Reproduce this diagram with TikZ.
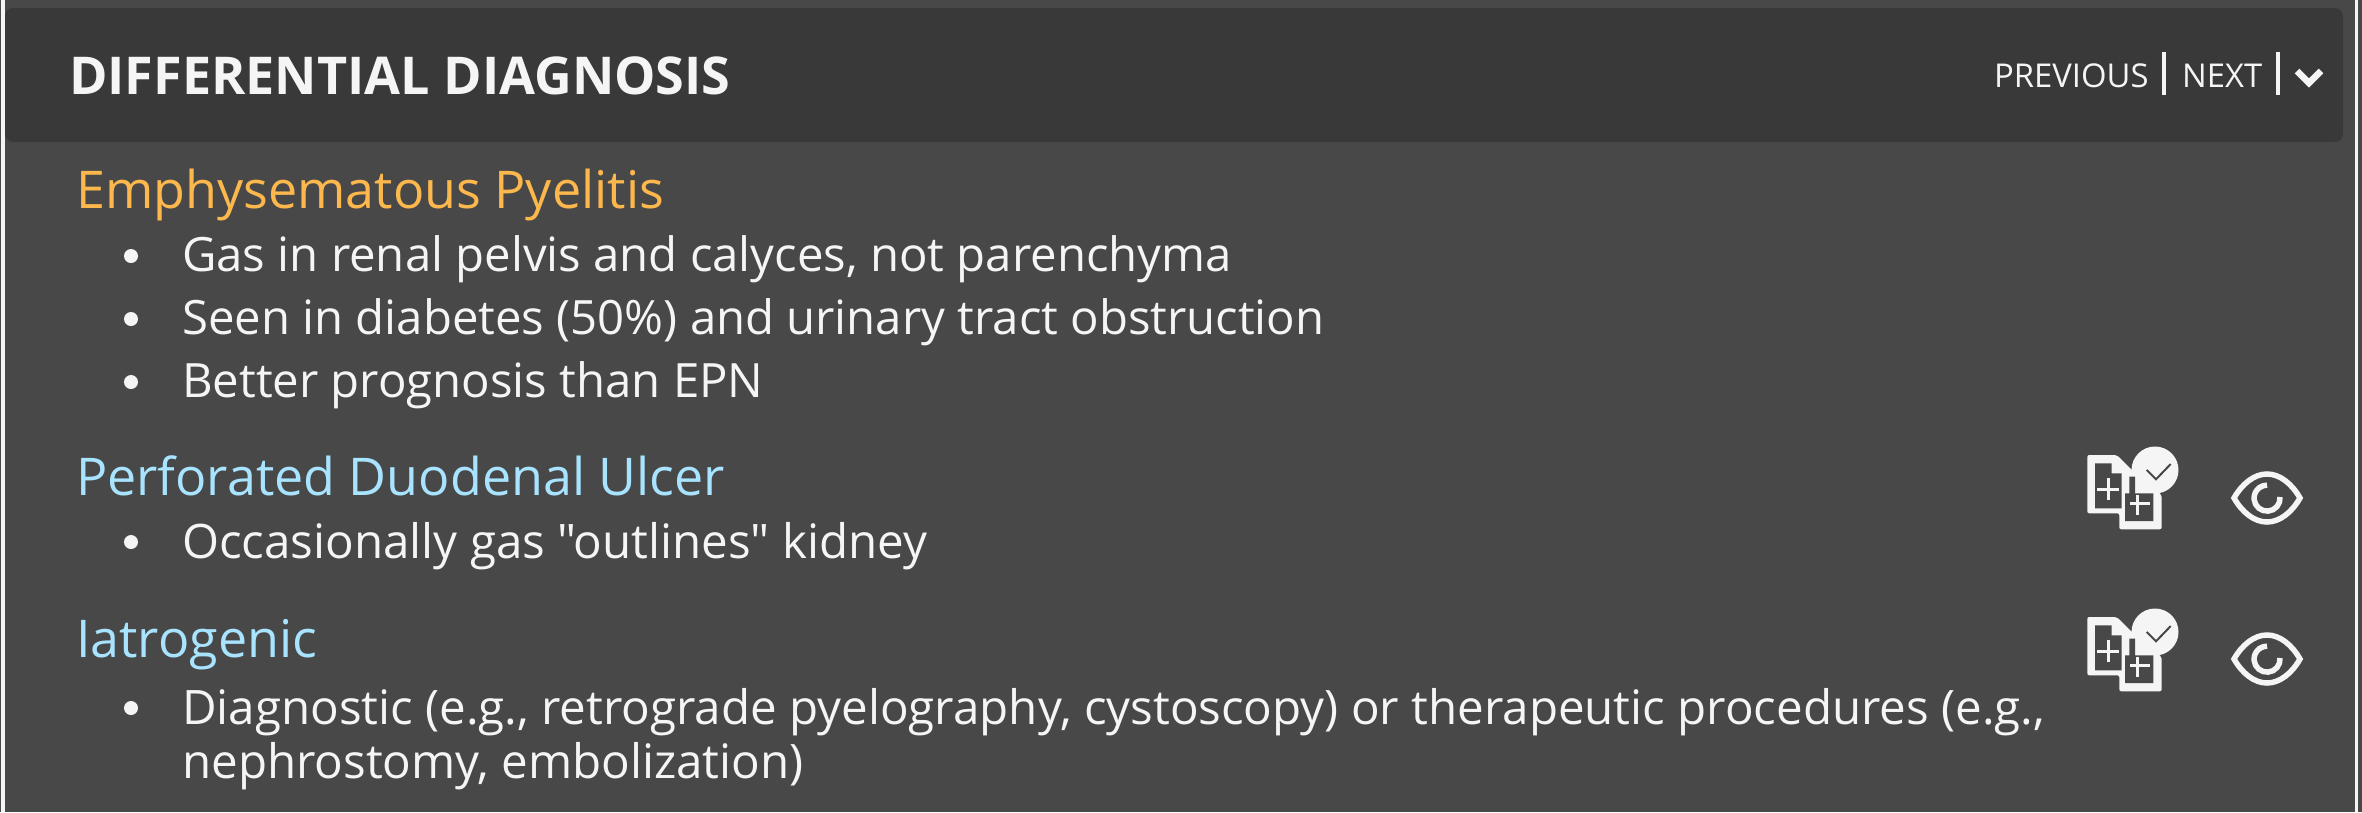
\documentclass[tikz,border=0pt]{standalone}
\usepackage{fontspec}
\setmainfont{Open Sans}[Ligatures=TeXOff]
\usetikzlibrary{positioning}
\definecolor{panelgray}{HTML}{484848}
\definecolor{headgray}{HTML}{393939}
\definecolor{offwhite}{HTML}{F5F5F5}
\definecolor{headorange}{HTML}{FDB84D}
\definecolor{headblue}{HTML}{A8E4FF}
\tikzset{
	x=1pt, y=1pt,
	titletext/.style={anchor=base west, inner sep=0, text=offwhite, font=\fontsize{52.1}{52}\selectfont\bfseries},
	navtext/.style={anchor=base west, inner sep=0, text=offwhite, font=\fontsize{32.8}{33}\selectfont},
	headtext/.style={anchor=base west, inner sep=0, font=\fontsize{52}{52}\selectfont},
	bodytext/.style={anchor=base west, inner sep=0, text=offwhite, font=\fontsize{47.3}{54}\selectfont},
	bodywide/.style={bodytext, font=\fontsize{47.5}{54}\selectfont},
	bulletdot/.style={circle, fill=offwhite, inner sep=0, minimum size=14},
	navbar/.style={offwhite, line width=4},
	pics/eyeicon/.style={code={
		\draw[offwhite, line width=5.5] (-33,0) .. controls (-25,14) and (-13,24) .. (0,24) .. controls (13,24) and (25,14) .. (33,0) .. controls (25,-14) and (13,-24) .. (0,-24) .. controls (-13,-24) and (-25,-14) .. (-33,0) -- cycle;
		\draw[offwhite, line width=5.5] (13,1) arc(5:-270:13);
	}},
	pics/docicon/.style={code={
		\fill[offwhite, rounded corners=2] (-32.7,35) -- (-3.3,35) -- (12,20) -- (41.7,-5) -- (41.7,-39.3) -- (-0.7,-39.3) -- (-0.7,-23.3) -- (-32.7,-23.3) -- cycle;
		\fill[offwhite] (35,20) circle(23.5);
		\fill[panelgray] (-25,26.7) -- (-8.3,26.7) -- (-8.3,16.7) -- (1.7,16.7) -- (1.7,-18.3) -- (-25,-18.3) -- cycle;
		\fill[panelgray] (5,-3.3) -- (9.3,-3.3) -- (9.3,13.3) -- (15,13.3) -- (15,-3.3) -- (33.3,-3.3) -- (33.3,-31) -- (5,-31) -- cycle;
		\draw[offwhite, line width=3] (-22.7,0.7) -- (-0.7,0.7) (-11.7,11.7) -- (-11.7,-10.3);
		\draw[offwhite, line width=3] (10,-13.3) -- (30,-13.3) (17.3,-5) -- (17.3,-25);
		\draw[panelgray, line width=2] (26.7,20) -- (36,10.7) -- (50.7,26);
	}}
}
\begin{document}
\begin{tikzpicture}
	\useasboundingbox (0,0) rectangle (2362,-812);
	\fill[panelgray] (0,0) rectangle (2362,-812);
	\fill[offwhite] (1,0) rectangle (5,-812);
	\fill[offwhite] (2355,0) rectangle (2358,-812);
	\fill[headgray, rounded corners=8] (5,-8) rectangle (2343,-142);
	% header
	\node[titletext] (title) at (69,-94) {DIFFERENTIAL DIAGNOSIS};
	\node[navtext] (prev) at (1994,-87) {PREVIOUS};
	\node[navtext] (next) at (2182,-87) {NEXT};
	\draw[navbar] (2164,-52)--(2164,-95);
	\draw[navbar] (2278,-52)--(2278,-95);
	\draw[offwhite, line width=6.5] (2297,-71)--(2309,-83)--(2321,-71);
	% first group
	\node[headtext, text=headorange] (pyelitis) at (76,-208) {Emphysematous Pyelitis};
	\node[bodytext] (gas) at (182,-271) {Gas in renal pelvis and calyces, not parenchyma};
	\node[bodytext] (seen) at (182,-334) {Seen in diabetes (50\%) and urinary tract obstruction};
	\node[bodytext] (better) at (182,-397) {Better prognosis than EPN};
	\node[bulletdot] (dot1) at (131,-256) {};
	\node[bulletdot] (dot2) at (131,-319) {};
	\node[bulletdot] (dot3) at (131,-382) {};
	% second group
	\node[headtext, text=headblue] (ulcer) at (76,-495) {Perforated Duodenal Ulcer};
	\node[bodywide] (outline) at (182,-558) {Occasionally gas "outlines" kidney};
	\node[bulletdot] (dot4) at (131,-542) {};
	% third group
	\node[headtext, text=headblue] (iatro) at (76,-657) {Iatrogenic};
	\node[bodywide] (diag) at (182,-724) {Diagnostic (e.g., retrograde pyelography, cystoscopy) or therapeutic procedures (e.g.,};
	\node[bodywide] (neph) at (182,-778) {nephrostomy, embolization)};
	\node[bulletdot] (dot5) at (131,-708) {};
	% icons
	\pic at (2120,-490) {docicon};
	\pic at (2120,-652) {docicon};
	\pic at (2267,-498) {eyeicon};
	\pic at (2267,-659) {eyeicon};
\end{tikzpicture}
\end{document}
